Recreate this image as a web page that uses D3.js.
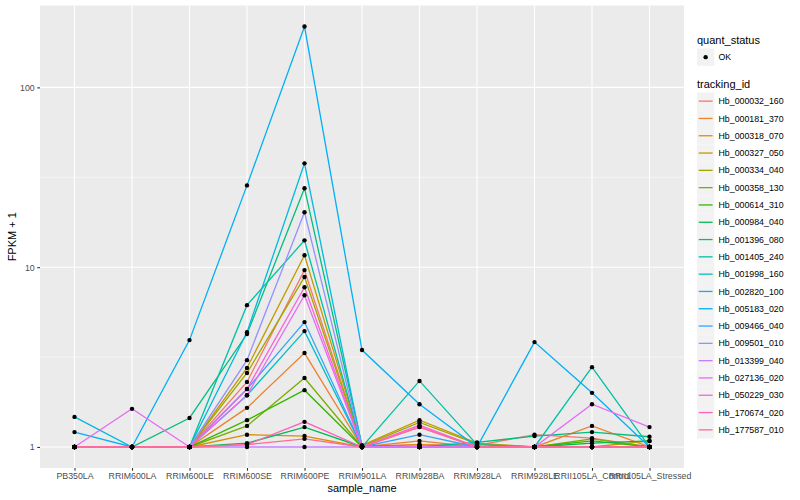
<!DOCTYPE html>
<html>
<head>
<meta charset="utf-8">
<script src="https://cdn.jsdelivr.net/npm/d3@7"></script>
<style>
body { margin: 0; background: #fff; }
svg text { font-family: "Liberation Sans", Arial, sans-serif; }
</style>
</head>
<body>
<div id="chart"></div>
<script>
const samples = ["PB350LA", "RRIM600LA", "RRIM600LE", "RRIM600SE", "RRIM600PE", "RRIM901LA",
    "RRIM928BA", "RRIM928LA", "RRIM928LE", "RRII105LA_Control", "RRII105LA_Stressed"];

const trackingIds = ["Hb_000032_160", "Hb_000181_370", "Hb_000318_070", "Hb_000327_050", "Hb_000334_040",
    "Hb_000358_130", "Hb_000614_310", "Hb_000984_040", "Hb_001396_080", "Hb_001405_240",
    "Hb_001998_160", "Hb_002820_100", "Hb_005183_020", "Hb_009466_040", "Hb_009501_010",
    "Hb_013399_040", "Hb_027136_020", "Hb_050229_030", "Hb_170674_020", "Hb_177587_010"];

const colors = ["#F8766D", "#EA8331", "#D89000", "#C09B00", "#A3A500", "#7CAE00", "#39B600", "#00BB4E",
    "#00BF7D", "#00C1A3", "#00BFC4", "#00BAE0", "#00B0F6", "#35A2FF", "#9590FF", "#C77CFF",
    "#E76BF3", "#FA62DB", "#FF62BC", "#FF6C91"];

// FPKM + 1, one row per tracking_id, columns follow samples
const fpkm = [
    [1.00, 1.00, 1.00, 2.30, 9.63, 1.01, 1.03, 1.02, 1.17, 1.12, 1.00],
    [1.00, 1.00, 1.00, 1.65, 3.33, 1.00, 1.08, 1.00, 1.00, 1.31, 1.00],
    [1.00, 1.00, 1.00, 1.17, 1.15, 1.00, 1.03, 1.00, 1.00, 1.00, 1.00],
    [1.00, 1.00, 1.00, 2.75, 11.65, 1.02, 1.41, 1.05, 1.00, 1.00, 1.08],
    [1.00, 1.00, 1.00, 2.58, 8.81, 1.01, 1.37, 1.04, 1.00, 1.00, 1.00],
    [1.00, 1.00, 1.00, 1.31, 2.42, 1.00, 1.00, 1.00, 1.00, 1.11, 1.00],
    [1.00, 1.00, 1.00, 1.41, 2.07, 1.00, 1.00, 1.00, 1.00, 1.08, 1.00],
    [1.00, 1.00, 1.00, 1.05, 1.29, 1.00, 1.00, 1.00, 1.00, 1.05, 1.08],
    [1.00, 1.00, 1.45, 4.25, 27.5, 1.02, 1.00, 1.06, 1.15, 1.21, 1.14],
    [1.00, 1.00, 1.00, 6.15, 14.1, 1.00, 2.33, 1.03, 1.00, 2.78, 1.00],
    [1.00, 1.00, 1.00, 1.94, 4.41, 1.00, 1.00, 1.00, 1.00, 1.00, 1.00],
    [1.47, 1.00, 1.00, 4.35, 37.8, 1.00, 1.00, 1.00, 1.00, 1.00, 1.00],
    [1.21, 1.00, 3.93, 28.5, 218, 3.46, 1.73, 1.00, 3.83, 2.00, 1.00],
    [1.00, 1.00, 1.00, 2.10, 4.95, 1.00, 1.17, 1.00, 1.00, 1.00, 1.00],
    [1.00, 1.00, 1.00, 3.04, 20.2, 1.00, 1.00, 1.00, 1.00, 1.00, 1.00],
    [1.00, 1.00, 1.00, 1.00, 1.00, 1.00, 1.00, 1.00, 1.00, 1.00, 1.00],
    [1.00, 1.63, 1.00, 1.94, 6.98, 1.00, 1.00, 1.00, 1.00, 1.73, 1.29],
    [1.00, 1.00, 1.00, 2.10, 7.74, 1.00, 1.32, 1.00, 1.00, 1.00, 1.00],
    [1.00, 1.00, 1.00, 1.03, 1.38, 1.00, 1.29, 1.00, 1.00, 1.00, 1.00],
    [1.00, 1.00, 1.00, 1.03, 1.11, 1.00, 1.29, 1.00, 1.00, 1.00, 1.00]
];

const yTicks = [1, 10, 100];
const yMinor = [Math.pow(10, 0.5), Math.pow(10, 1.5)];

const width = 800, height = 500;
const panel = { left: 40, right: 684, top: 5.5, bottom: 468 };

const svg = d3.select("#chart").append("svg")
    .attr("width", width).attr("height", height);

const x = d3.scalePoint()
    .domain(samples)
    .range([panel.left, panel.right])
    .padding(0.6);

// log scale with ggplot's 5% expansion in log space
const allVals = fpkm.flat();
const lmin = Math.log10(d3.min(allVals)), lmax = Math.log10(d3.max(allVals));
const pad = (lmax - lmin) * 0.05;
const y = d3.scaleLog()
    .domain([Math.pow(10, lmin - pad), Math.pow(10, lmax + pad)])
    .range([panel.bottom, panel.top]);

// panel background and grid
svg.append("rect")
    .attr("x", panel.left).attr("y", panel.top)
    .attr("width", panel.right - panel.left).attr("height", panel.bottom - panel.top)
    .attr("fill", "#EBEBEB");

svg.append("g").selectAll("line")
    .data(yMinor).enter().append("line")
    .attr("x1", panel.left).attr("x2", panel.right)
    .attr("y1", d => y(d)).attr("y2", d => y(d))
    .attr("stroke", "#fff").attr("stroke-width", 0.55);

svg.append("g").selectAll("line")
    .data(yTicks).enter().append("line")
    .attr("x1", panel.left).attr("x2", panel.right)
    .attr("y1", d => y(d)).attr("y2", d => y(d))
    .attr("stroke", "#fff").attr("stroke-width", 1.1);

svg.append("g").selectAll("line")
    .data(samples).enter().append("line")
    .attr("x1", d => x(d)).attr("x2", d => x(d))
    .attr("y1", panel.top).attr("y2", panel.bottom)
    .attr("stroke", "#fff").attr("stroke-width", 1.1);

// lines
const line = d3.line()
    .x((d, i) => x(samples[i]))
    .y(d => y(d));

svg.append("g").selectAll("path")
    .data(fpkm).enter().append("path")
    .attr("d", d => line(d))
    .attr("fill", "none")
    .attr("stroke", (d, i) => colors[i])
    .attr("stroke-width", 1.3);

// points
const pts = [];
fpkm.forEach((row, i) => row.forEach((v, j) => pts.push({ s: samples[j], v })));
svg.append("g").selectAll("circle")
    .data(pts).enter().append("circle")
    .attr("cx", d => x(d.s))
    .attr("cy", d => y(d.v))
    .attr("r", 2.2)
    .attr("fill", "#000");

// axes
const xAxis = svg.append("g")
    .attr("transform", `translate(0,${panel.bottom})`)
    .call(d3.axisBottom(x).tickSizeOuter(0).tickSize(2.75).tickPadding(2.5));
const yAxis = svg.append("g")
    .attr("transform", `translate(${panel.left},0)`)
    .call(d3.axisLeft(y).tickValues(yTicks).tickFormat(d3.format("d")).tickSizeOuter(0).tickSize(2.75).tickPadding(2.5));

[xAxis, yAxis].forEach(a => {
    a.select(".domain").remove();
    a.selectAll(".tick line").attr("stroke", "#333").attr("stroke-width", 1.1);
    a.selectAll(".tick text").attr("fill", "#4D4D4D").style("font-size", "8.8px")
        .style("font-family", "'Liberation Sans', Arial, sans-serif");
});

svg.append("text")
    .attr("x", (panel.left + panel.right) / 2).attr("y", 492)
    .attr("text-anchor", "middle").style("font-size", "11px")
    .text("sample_name");

svg.append("text")
    .attr("transform", `translate(16,${(panel.top + panel.bottom) / 2}) rotate(-90)`)
    .attr("text-anchor", "middle").style("font-size", "11px")
    .text("FPKM + 1");

// legends
const lg = svg.append("g").attr("transform", "translate(697,0)");
lg.append("text").attr("x", 0).attr("y", 44).style("font-size", "11px").text("quant_status");
lg.append("rect").attr("x", 0).attr("y", 48.5).attr("width", 17.3).attr("height", 17.3).attr("fill", "#F2F2F2");
lg.append("circle").attr("cx", 8.65).attr("cy", 57.15).attr("r", 2.2).attr("fill", "#000");
lg.append("text").attr("x", 21.5).attr("y", 60.3).style("font-size", "8.8px").text("OK");

lg.append("text").attr("x", 0).attr("y", 88).style("font-size", "11px").text("tracking_id");
const keyY = d3.scaleBand().domain(trackingIds).range([92.5, 92.5 + 17.3 * trackingIds.length]);
const keys = lg.append("g").selectAll("g")
    .data(trackingIds).enter().append("g")
    .attr("transform", d => `translate(0,${keyY(d)})`);
keys.append("rect").attr("width", 17.3).attr("height", 17.3).attr("fill", "#F2F2F2");
keys.append("line").attr("x1", 1.7).attr("x2", 15.6).attr("y1", 8.65).attr("y2", 8.65)
    .attr("stroke", (d, i) => colors[i]).attr("stroke-width", 1.3);
keys.append("text").attr("x", 21.5).attr("y", 11.8).style("font-size", "8.8px").text(d => d);
</script>
</body>
</html>
